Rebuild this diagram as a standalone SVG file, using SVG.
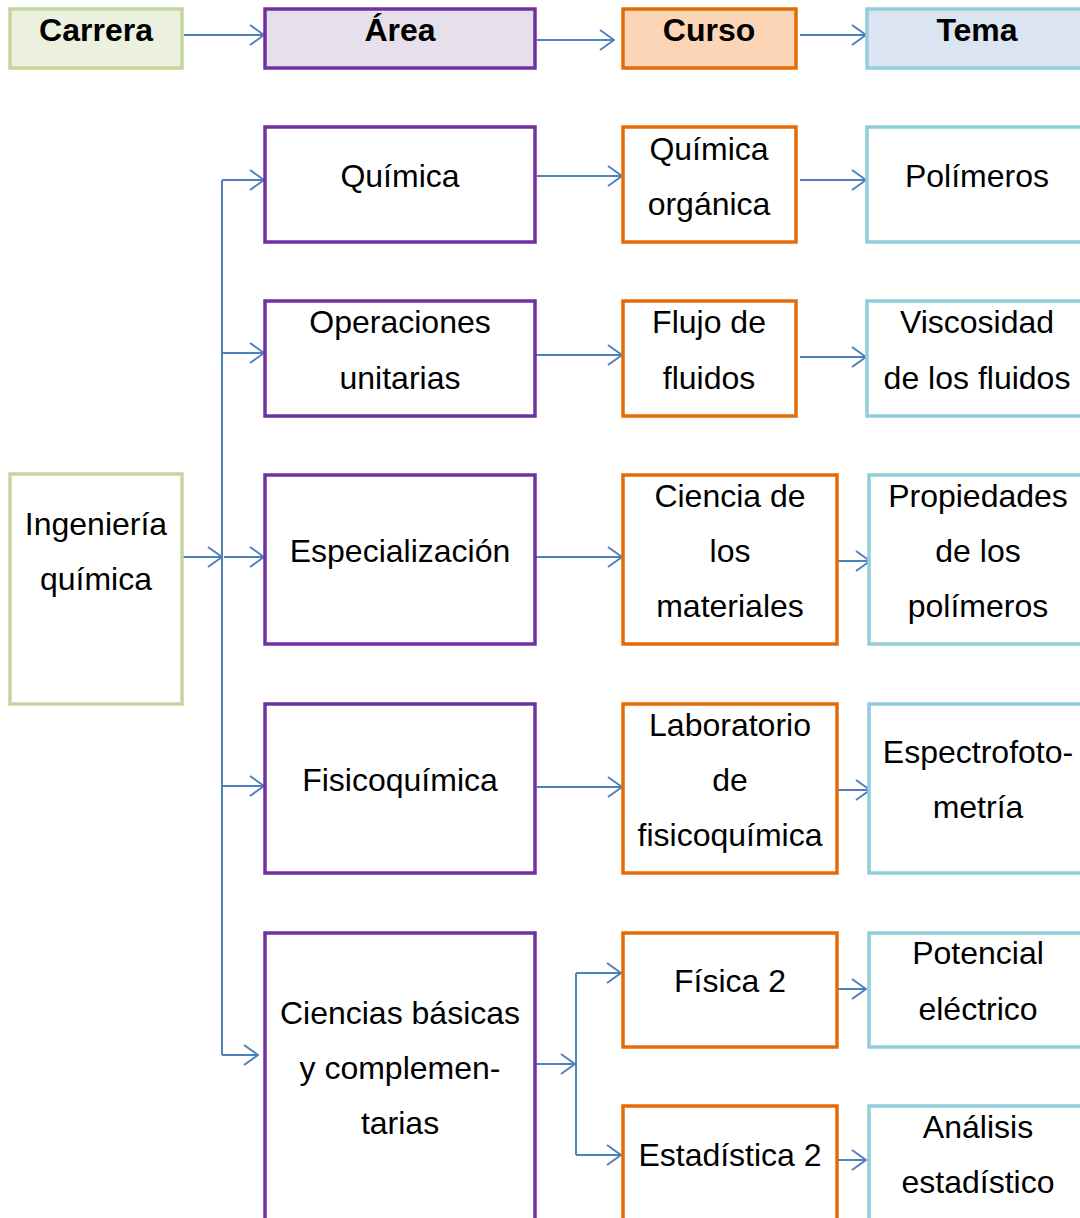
<svg xmlns="http://www.w3.org/2000/svg" width="1080" height="1218" viewBox="0 0 1080 1218">
<defs>
<marker id="ah" markerWidth="16" markerHeight="24" refX="15" refY="12" orient="auto" markerUnits="userSpaceOnUse">
<path d="M1,2 L15,12 L1,22" fill="none" stroke="#4F81BD" stroke-width="2"/>
</marker>
<style>
.t{font-family:"Liberation Sans",Arial,sans-serif;font-size:32px;fill:#000;text-anchor:middle}
.h{font-weight:bold}
.g{fill:#fff;stroke:#C3D69B;stroke-width:3.5}
.p{fill:#fff;stroke:#7030A0;stroke-width:3.5}
.o{fill:#fff;stroke:#E36C09;stroke-width:3.5}
.b{fill:#fff;stroke:#92CDDC;stroke-width:3.5}
.c{fill:none;stroke:#4F81BD;stroke-width:2}
.a{marker-end:url(#ah)}
</style>
</defs>
<rect width="1080" height="1218" fill="#fff"/>
<g id="connectors">
<path class="c a" d="M184,35 H264"/>
<path class="c a" d="M537,40 H614"/>
<path class="c a" d="M800,35 H866"/>
<path class="c" d="M222,180 V1055"/>
<path class="c a" d="M182,557 H222"/>
<path class="c a" d="M222,180 H264"/>
<path class="c a" d="M222,353 H264"/>
<path class="c a" d="M224,557 H264"/>
<path class="c a" d="M222,786 H264"/>
<path class="c a" d="M222,1055 H258"/>
<path class="c a" d="M537,176 H622"/>
<path class="c a" d="M800,180 H866"/>
<path class="c a" d="M535,355 H622"/>
<path class="c a" d="M800,357 H866"/>
<path class="c a" d="M535,557 H622"/>
<path class="c a" d="M835,561 H870"/>
<path class="c a" d="M537,787 H622"/>
<path class="c a" d="M835,790 H870"/>
<path class="c a" d="M530,1064 H575"/>
<path class="c" d="M576,973 V1155"/>
<path class="c a" d="M576,973 H621"/>
<path class="c a" d="M576,1155 H621"/>
<path class="c a" d="M838,989 H866"/>
<path class="c a" d="M838,1160 H866"/>
</g>
<g id="h-carrera"><rect x="10" y="9" width="172" height="59" class="g" style="fill:#EBF1DE"/><text class="t h" x="96" y="41">Carrera</text></g>
<g id="h-area"><rect x="265" y="9" width="270" height="59" class="p" style="fill:#E5E0EC"/><text class="t h" x="400" y="41">Área</text></g>
<g id="h-curso"><rect x="623" y="9" width="173" height="59" class="o" style="fill:#FBD5B5"/><text class="t h" x="709" y="41">Curso</text></g>
<g id="h-tema"><rect x="867" y="9" width="216" height="59" class="b" style="fill:#DBE5F1"/><text class="t h" x="977" y="41">Tema</text></g>

<g id="n-ingenieria"><rect x="10" y="474" width="172" height="230" class="g"/><text class="t" x="96" y="535">Ingeniería</text><text class="t" x="96" y="590">química</text></g>

<g id="n-quimica"><rect x="265" y="127" width="270" height="115" class="p"/><text class="t" x="400" y="187">Química</text></g>
<g id="n-quimorg"><rect x="623" y="127" width="173" height="115" class="o"/><text class="t" x="709" y="160">Química</text><text class="t" x="709" y="215">orgánica</text></g>
<g id="n-polimeros"><rect x="867" y="127" width="216" height="115" class="b"/><text class="t" x="977" y="187">Polímeros</text></g>

<g id="n-operaciones"><rect x="265" y="301" width="270" height="115" class="p"/><text class="t" x="400" y="333">Operaciones</text><text class="t" x="400" y="389">unitarias</text></g>
<g id="n-flujo"><rect x="623" y="301" width="173" height="115" class="o"/><text class="t" x="709" y="333">Flujo de</text><text class="t" x="709" y="389">fluidos</text></g>
<g id="n-viscosidad"><rect x="867" y="301" width="216" height="115" class="b"/><text class="t" x="977" y="333">Viscosidad</text><text class="t" x="977" y="389">de los fluidos</text></g>

<g id="n-especializacion"><rect x="265" y="475" width="270" height="169" class="p"/><text class="t" x="400" y="562">Especialización</text></g>
<g id="n-ciencia"><rect x="623" y="475" width="214" height="169" class="o"/><text class="t" x="730" y="507">Ciencia de</text><text class="t" x="730" y="562">los</text><text class="t" x="730" y="617">materiales</text></g>
<g id="n-propiedades"><rect x="869" y="475" width="214" height="169" class="b"/><text class="t" x="978" y="507">Propiedades</text><text class="t" x="978" y="562">de los</text><text class="t" x="978" y="617">polímeros</text></g>

<g id="n-fisicoquimica"><rect x="265" y="704" width="270" height="169" class="p"/><text class="t" x="400" y="791">Fisicoquímica</text></g>
<g id="n-laboratorio"><rect x="623" y="704" width="214" height="169" class="o"/><text class="t" x="730" y="736">Laboratorio</text><text class="t" x="730" y="791">de</text><text class="t" x="730" y="846">fisicoquímica</text></g>
<g id="n-espectro"><rect x="869" y="704" width="214" height="169" class="b"/><text class="t" x="978" y="763">Espectrofoto-</text><text class="t" x="978" y="818">metría</text></g>

<g id="n-ciencias"><rect x="265" y="933" width="270" height="300" class="p"/><text class="t" x="400" y="1024">Ciencias básicas</text><text class="t" x="400" y="1079">y complemen-</text><text class="t" x="400" y="1134">tarias</text></g>
<g id="n-fisica2"><rect x="623" y="933" width="214" height="114" class="o"/><text class="t" x="730" y="992">Física 2</text></g>
<g id="n-potencial"><rect x="869" y="933" width="214" height="114" class="b"/><text class="t" x="978" y="964">Potencial</text><text class="t" x="978" y="1020">eléctrico</text></g>
<g id="n-estadistica"><rect x="623" y="1106" width="214" height="130" class="o"/><text class="t" x="730" y="1166">Estadística 2</text></g>
<g id="n-analisis"><rect x="869" y="1106" width="214" height="130" class="b"/><text class="t" x="978" y="1138">Análisis</text><text class="t" x="978" y="1193">estadístico</text></g>
</svg>
